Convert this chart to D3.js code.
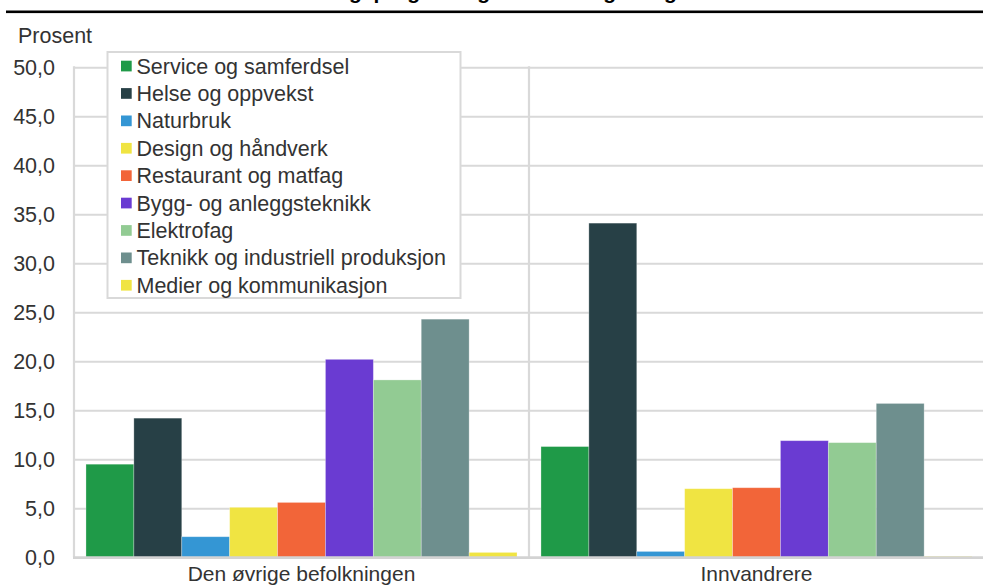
<!DOCTYPE html>
<html>
<head>
<meta charset="utf-8">
<script src="https://cdn.jsdelivr.net/npm/d3@7"></script>
<style>
  html, body { margin: 0; padding: 0; background: #fff; }
  svg { display: block; font-family: "Liberation Sans", Arial, sans-serif; }
</style>
</head>
<body>
<svg id="chart" width="983" height="585"></svg>
<script>
const groups = ["Den øvrige befolkningen", "Innvandrere"];
const seriesNames = [
  "Service og samferdsel",
  "Helse og oppvekst",
  "Naturbruk",
  "Design og håndverk",
  "Restaurant og matfag",
  "Bygg- og anleggsteknikk",
  "Elektrofag",
  "Teknikk og industriell produksjon",
  "Medier og kommunikasjon"
];
const seriesColors = ["#1f9a48", "#274046", "#3496d4", "#f0e442", "#f26539", "#6a3bd2", "#92cb93", "#6e8f8e", "#f0e442"];
const valuesOvrige = [9.5, 14.2, 2.1, 5.1, 5.6, 20.2, 18.1, 24.3, 0.5];
const valuesInnvandrere = [11.3, 34.1, 0.6, 7.0, 7.1, 11.9, 11.7, 15.7, 0.1];
const yTicks = [0, 5, 10, 15, 20, 25, 30, 35, 40, 45, 50];
const yLabel = "Prosent";
const titleText = "Elever etter utdanningsprogram og innvandringsbakgrunn";

const seriesValues = [valuesOvrige, valuesInnvandrere];

const svg = d3.select("#chart");
const W = 983;
const mLeft = 74, mRight = 984, mTop = 67.3, mBottom = 557.3;
const textColor = "#333333";
const gridColor = "#d9d9d9";
const fs = 21.5;

// Title (cut off at top in reference)
svg.append("text")
  .attr("x", 140).attr("y", -0.8)
  .attr("font-size", 21).attr("font-weight", "bold")
  .attr("fill", "#000")
  .text(titleText);
svg.append("rect")
  .attr("x", 6).attr("y", 10.5).attr("width", W - 6).attr("height", 2.6)
  .attr("fill", "#000");

const x0 = d3.scaleBand().domain(groups).range([mLeft, mRight]).paddingInner(0).paddingOuter(0);
const x1 = d3.scaleBand().domain(d3.range(seriesNames.length)).range([0, x0.bandwidth()])
  .paddingInner(0).paddingOuter(0.25);
const y = d3.scaleLinear().domain([0, 50]).range([mBottom, mTop]);

// Gridlines
const grid = svg.append("g")
  .attr("transform", `translate(${mLeft},0)`)
  .call(d3.axisLeft(y).tickValues(yTicks.filter(t => t > 0)).tickSize(-(W - mLeft)).tickFormat(""));
grid.select(".domain").remove();
grid.selectAll("line").attr("stroke", gridColor).attr("stroke-width", 2);

// Vertical lines: left axis and group separators
const vlines = [mLeft].concat(groups.slice(1).map(g => x0(g)));
svg.selectAll(".vline").data(vlines).enter().append("line")
  .attr("x1", d => d).attr("x2", d => d)
  .attr("y1", mTop - 1).attr("y2", mBottom)
  .attr("stroke", gridColor).attr("stroke-width", 2.2);

// Bars
const gSel = svg.selectAll(".grp").data(groups).enter().append("g")
  .attr("transform", d => `translate(${x0(d)},0)`);
gSel.selectAll("rect")
  .data((d, gi) => seriesValues[gi].map((v, si) => ({ v, si })))
  .enter().append("rect")
  .attr("x", d => x1(d.si))
  .attr("width", x1.bandwidth())
  .attr("y", d => y(d.v))
  .attr("height", d => y(0) - y(d.v))
  .attr("fill", d => seriesColors[d.si])
  .attr("stroke", "#ffffff").attr("stroke-opacity", 0.35).attr("stroke-width", 0.8);

// Baseline
svg.append("line")
  .attr("x1", mLeft - 1).attr("x2", W)
  .attr("y1", y(0) + 0.3).attr("y2", y(0) + 0.3)
  .attr("stroke", "#d3d3d3").attr("stroke-width", 2.8);

// Y axis labels
const yAxis = svg.append("g")
  .attr("transform", `translate(${mLeft},0)`)
  .call(d3.axisLeft(y).tickValues(yTicks).tickSize(0).tickPadding(19)
    .tickFormat(d => d3.format(".1f")(d).replace(".", ",")));
yAxis.select(".domain").remove();
yAxis.selectAll("text")
  .attr("font-size", fs).attr("fill", textColor)
  .attr("font-family", "Liberation Sans, Arial, sans-serif");

svg.append("text")
  .attr("x", 18).attr("y", 43)
  .attr("font-size", fs).attr("fill", textColor)
  .text(yLabel);

// X axis labels
const xAxis = svg.append("g")
  .attr("transform", `translate(0,${mBottom})`)
  .call(d3.axisBottom(x0).tickSize(0).tickPadding(8.5));
xAxis.select(".domain").remove();
xAxis.selectAll("text")
  .attr("font-size", 21).attr("fill", textColor)
  .attr("font-family", "Liberation Sans, Arial, sans-serif");

// Legend
const lg = svg.append("g");
lg.append("rect")
  .attr("x", 107.5).attr("y", 52).attr("width", 353).attr("height", 246)
  .attr("fill", "#fff").attr("stroke", gridColor).attr("stroke-width", 2);
const items = lg.selectAll(".item").data(seriesNames).enter().append("g")
  .attr("transform", (d, i) => `translate(0,${66 + i * 27.4})`);
items.append("rect")
  .attr("x", 121).attr("y", -5.3).attr("width", 10.7).attr("height", 10.7)
  .attr("fill", (d, i) => seriesColors[i]);
items.append("text")
  .attr("x", 136.5).attr("y", 7.6)
  .attr("font-size", fs).attr("fill", textColor)
  .text(d => d);
</script>
</body>
</html>
